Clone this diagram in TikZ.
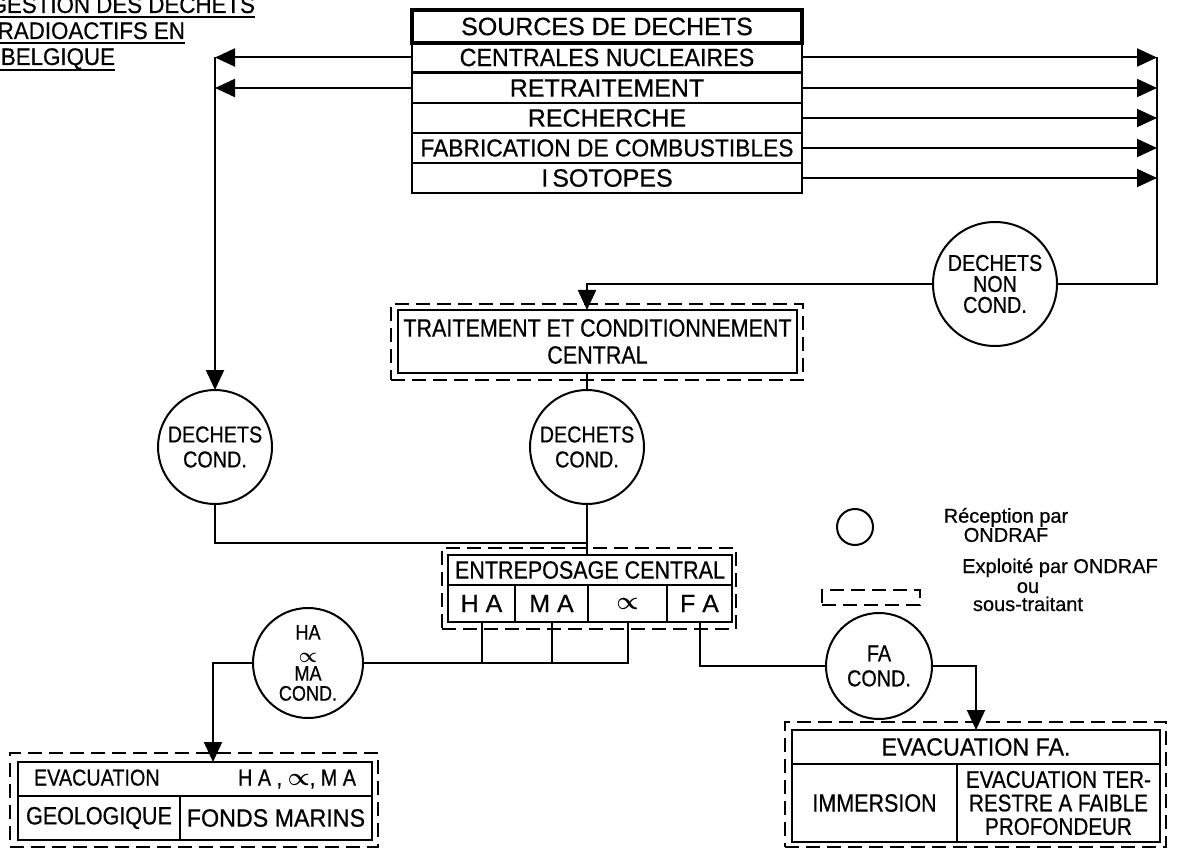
\documentclass[tikz,border=0pt]{standalone}
\usepackage{fontspec}
\usepackage{amsmath}
\setmainfont{Liberation Sans}[FakeBold=0.6]
\newfontfamily\cA{Liberation Sans}[FakeStretch=0.93,FakeBold=0.6]
\newfontfamily\cB{Liberation Sans}[FakeStretch=0.86,FakeBold=0.6]
\usetikzlibrary{arrows.meta}
\newcommand\boxfont{\fontsize{25}{26}\selectfont}
\newcommand\circfont{\cB\fontsize{23}{25}\selectfont}
\newcommand\legfont{\fontsize{20}{18}\selectfont}
\newcommand\titfont{\cA\fontsize{24}{26}\selectfont}
\newcommand\alp{$\boldsymbol{\propto}$}
\begin{document}
\begin{tikzpicture}[x=1pt,y=-1pt,
  every node/.style={inner sep=0pt, outer sep=0pt},
  box/.style={draw, line width=2.7pt, rectangle, font=\boxfont},
  dbox/.style={draw, line width=1.8pt, dash pattern=on 14pt off 7pt, rectangle},
  rec/.style={draw, circle, line width=2pt, font=\circfont, align=center},
  conn/.style={line width=2pt},
  arr/.style={line width=2pt, -{Triangle[length=20pt,width=18pt]}},
]
\useasboundingbox (0,0) rectangle (1191,850);
\fill[white] (0,0) rectangle (1191,850);

% title
\node[font=\titfont, anchor=base east] (t1) at (255,13) {GESTION DES DECHETS};
\node[font=\titfont, anchor=base east] (t2) at (185,39) {RADIOACTIFS EN};
\node[font=\titfont, anchor=base east] (t3) at (115,65) {BELGIQUE};
\draw[line width=2pt] (0,17) -- (255,17);
\draw[line width=2pt] (0,43) -- (185,43);
\draw[line width=2pt] (0,70) -- (115,70);

% sources
\node[box, line width=3.2pt, minimum width=390pt, minimum height=33pt] (src) at (607,26.5) {SOURCES DE DECHETS};
\node[box, minimum width=390pt, minimum height=30pt, font=\cA\boxfont] (cn) at (607,57.5) {CENTRALES NUCLEAIRES};
\node[box, minimum width=390pt, minimum height=30pt] (ret) at (607,88) {RETRAITEMENT};
\node[box, minimum width=390pt, minimum height=30pt] (rch) at (607,118) {RECHERCHE};
\node[box, minimum width=390pt, minimum height=30pt, font=\cA\fontsize{24.5}{26}\selectfont] (fab) at (607,148) {FABRICATION DE COMBUSTIBLES};
\node[box, minimum width=390pt, minimum height=30pt] (iso) at (607,178) {I\kern4pt SOTOPES};

\coordinate (rt) at (1157,57.5);
\coordinate (lt) at (215,57.5);
\foreach \n in {cn,ret,rch,fab,iso} \draw[arr] (\n.east) -- (\n.east -| rt);
\draw[arr] (cn.west) -- (lt);
\draw[arr] (ret.west) -- (ret.west -| lt);

% non conditioned
\node[rec, minimum size=124pt, font=\cB\fontsize{23}{21}\selectfont] (nc) at (995,284) {DECHETS\\NON\\COND.};
\draw[conn] (rt) |- (nc.east);
\coordinate (tin) at (587,310);
\draw[arr] (nc.west) -| (tin);

% traitement
\node[dbox, minimum width=412pt, minimum height=76pt] (trO) at (597,342) {};
\node[box, minimum width=399pt, minimum height=63pt, align=center, font=\cB\fontsize{25}{27}\selectfont] (tr) at (597.5,341.5) {TRAITEMENT ET CONDITIONNEMENT\\CENTRAL};

% conditioned
\node[rec, minimum size=114pt] (dcl) at (215,447) {DECHETS\\COND.};
\node[rec, minimum size=114pt] (dcm) at (587,447) {DECHETS\\COND.};
\draw[arr] (lt) -- (dcl.north);
\draw[conn] (dcm.north |- tr.south) -- (dcm.north);

% entreposage
\node[dbox, minimum width=294pt, minimum height=81pt] (enO) at (589,588.5) {};
\node[box, minimum width=284pt, minimum height=30pt, font=\cB\boxfont] (enh) at (590,570) {ENTREPOSAGE CENTRAL};
\node[box, minimum width=67pt, minimum height=37pt] (ha) at (481.5,603.5) {H A};
\node[box, minimum width=73pt, minimum height=37pt] (ma) at (551.5,603.5) {M A};
\node[box, minimum width=79pt, minimum height=37pt] (al) at (627.5,603.5) {\alp};
\node[box, minimum width=65pt, minimum height=37pt] (fa) at (699.5,603.5) {F A};
\coordinate (jn) at (587,543);
\draw[conn] (dcl.south) |- (jn);
\draw[conn] (dcm.south) -- (dcm.south |- enh.north);

% lower circles
\node[rec, minimum size=110pt, font=\cB\fontsize{21}{20}\selectfont] (hac) at (308,663) {HA\\[3pt]\alp\\[-2pt]MA\\COND.};
\node[rec, minimum size=106pt] (fac) at (879,666) {FA\\COND.};
\draw[conn] (hac.east) -| (al.south);
\draw[conn] (ha.south) -- (ha.south |- hac.east);
\draw[conn] (ma.south) -- (ma.south |- hac.east);
\draw[conn] (fa.south) |- (fac.west);

% evacuation HA
\node[dbox, minimum width=368pt, minimum height=94pt] (evhO) at (194,800) {};
\node[box, minimum width=354pt, minimum height=34pt, font=\cB\fontsize{23}{24}\selectfont] (evh) at (195,779) {\makebox[322pt][l]{EVACUATION\hfill H A , \alp, M A}};
\node[box, minimum width=162pt, minimum height=44pt, font=\cB\boxfont] (geo) at (99,818) {GEOLOGIQUE};
\node[box, minimum width=192pt, minimum height=44pt, font=\cA\boxfont] (fm) at (276,818) {FONDS MARINS};
\coordinate (evin) at (213,762);
\draw[arr] (hac.west) -| (evin);

% evacuation FA
\node[dbox, minimum width=381pt, minimum height=125pt] (evfO) at (975.5,784.5) {};
\node[box, minimum width=368pt, minimum height=34pt, font=\cA\boxfont] (evfh) at (976,747) {EVACUATION FA.};
\node[box, minimum width=165pt, minimum height=78pt, font=\cB\boxfont] (imm) at (874.5,803) {IMMERSION};
\node[box, minimum width=203pt, minimum height=78pt, align=center, font=\cB\fontsize{24}{23.5}\selectfont] (terr) at (1058.5,803) {EVACUATION TER-\\RESTRE A FAIBLE\\PROFONDEUR};
\draw[arr] (fac.east) -| (evfh.north);

% legend
\node[draw, circle, line width=2pt, minimum size=36pt] (lgc) at (855,527) {};
\node[font=\legfont, align=center] (lgct) at (1006,525) {Réception par\\ONDRAF};
\node[dbox, minimum width=98pt, minimum height=15pt] (lgd) at (871,597.5) {};
\node[font=\legfont, anchor=base] (lgdt1) at (1060,573) {Exploité par ONDRAF};
\node[font=\legfont, anchor=base] (lgdt2) at (1028,593) {ou};
\node[font=\legfont, anchor=base] (lgdt3) at (1028,611) {sous-traitant};
\end{tikzpicture}
\end{document}
